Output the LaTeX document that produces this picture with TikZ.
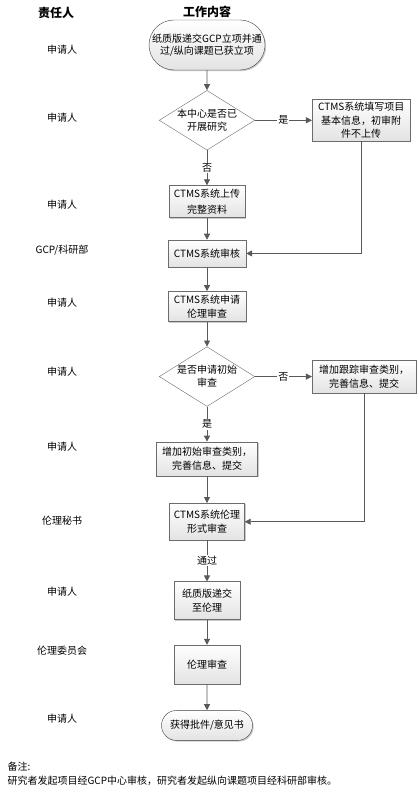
\documentclass[tikz,border=0pt]{standalone}
\usepackage{fontspec}
\setmainfont{Noto Sans CJK SC}
\usetikzlibrary{arrows.meta,positioning,shapes.geometric,shapes.misc,shadows}

\begin{document}
\begin{tikzpicture}[
      x=1pt,y=-1pt,
      font=\fontsize{10}{14}\selectfont,
      box/.style={draw=gray!85!black,rectangle,align=center,inner sep=2pt,
        top color=white,bottom color=gray!22,
        drop shadow={shadow xshift=1.2pt,shadow yshift=-1.2pt,fill=gray!70,opacity=0.6}},
      term/.style={box,rounded rectangle,draw=black!75},
      dec/.style={draw=gray!85!black,fill=white,diamond,aspect=1.6,align=center,
        inner sep=0pt,minimum width=93pt,minimum height=58pt},
      arr/.style={-{Triangle[length=6pt,width=6pt]},draw=black!65,line width=0.8pt},
      tag/.style={fill=white,inner sep=1pt},
      lbl/.style={font=\fontsize{10}{12}\selectfont},
      head/.style={font=\fontsize{12}{14}\selectfont\bfseries},
    ]
    \useasboundingbox (0,0) rectangle (419,794);
    % column heads
    \node[head] (hdrole) at (56,13) {责任人};
    \node[head] (hdwork) at (207,12) {工作内容};
    % main flow
    \node[term,minimum width=120pt,minimum height=50pt,font=\fontsize{10}{12}\selectfont]
      (start) at (207,45) {纸质版递交GCP立项并通\\过/纵向课题已获立项};
    \node[dec,below=20pt of start,font=\fontsize{10}{13}\selectfont] (chk1)
      {本中心是否已\\开展研究};
    \node[box,right=57pt of chk1,minimum width=98pt,minimum height=42pt,
      font=\fontsize{10}{13.5}\selectfont] (fill1)
      {CTMS系统填写项目\\基本信息，初审附\\件不上传};
    \node[box,below=35pt of chk1,minimum width=76pt,minimum height=32pt,
      font=\fontsize{10}{16}\selectfont] (upload) {CTMS系统上传\\完整资料};
    \node[box,below=22pt of upload,minimum width=78pt,minimum height=27pt] (audit)
      {CTMS系统审核};
    \node[box,below=24pt of audit,minimum width=78pt,minimum height=30pt] (apply)
      {CTMS系统申请\\伦理审查};
    \node[dec,below=25pt of apply,font=\fontsize{10}{13}\selectfont] (chk2)
      {是否申请初始\\审查};
    \node[box,right=57pt of chk2,minimum width=104pt,minimum height=33pt] (track)
      {增加跟踪审查类别，\\完善信息、提交};
    \node[box,below=35pt of chk2,minimum width=101pt,minimum height=34pt] (init)
      {增加初始审查类别，\\完善信息、提交};
    \node[box,below=27pt of init,minimum width=75pt,minimum height=37pt] (formal)
      {CTMS系统伦理\\形式审查};
    \node[box,below=41pt of formal,minimum width=66pt,minimum height=38pt] (paper)
      {纸质版递交\\至伦理};
    \node[box,below=25pt of paper,minimum width=66pt,minimum height=39pt] (review)
      {伦理审查};
    \node[term,below=26pt of review,minimum width=95pt,minimum height=30pt] (done)
      {获得批件/意见书};

    % roles
    \node[lbl] (r1) at (62,50) {申请人};
    \node[lbl] (r2) at (62,118) {申请人};
    \node[lbl] (r3) at (62,205) {申请人};
    \node[lbl] (r4) at (62,250) {GCP/科研部};
    \node[lbl] (r5) at (62,303) {申请人};
    \node[lbl] (r6) at (62,372) {申请人};
    \node[lbl] (r7) at (62,447) {申请人};
    \node[lbl] (r8) at (62,521) {伦理秘书};
    \node[lbl] (r9) at (62,592) {申请人};
    \node[lbl] (r10) at (62,651) {伦理委员会};
    \node[lbl] (r11) at (62,719) {申请人};

    \draw[arr] (start)--(chk1);
    \draw[arr] (chk1)--(fill1) node[tag,midway]{是};
    \draw[arr] (chk1)--(upload) node[tag,midway]{否};
    \draw[arr] (upload)--(audit);
    \draw[arr] (fill1.south) |- (audit.east);
    \draw[arr] (audit)--(apply);
    \draw[arr] (apply)--(chk2);
    \draw[arr] (chk2)--(track) node[tag,midway]{否};
    \draw[arr] (chk2)--(init) node[tag,midway]{是};
    \draw[arr] (init)--(formal);
    \draw[arr] (track.south) |- (formal.east);
    \draw[arr] (formal)--(paper) node[tag,midway]{通过};
    \draw[arr] (paper)--(review);
    \draw[arr] (review)--(done);

    % note
    \node[anchor=west] (notehd) at (4,767) {备注:};
    \node[anchor=west] (notetxt) at (4,781)
      {研究者发起项目经GCP中心审核，研究者发起纵向课题项目经科研部审核。};
  \end{tikzpicture}
\end{document}
